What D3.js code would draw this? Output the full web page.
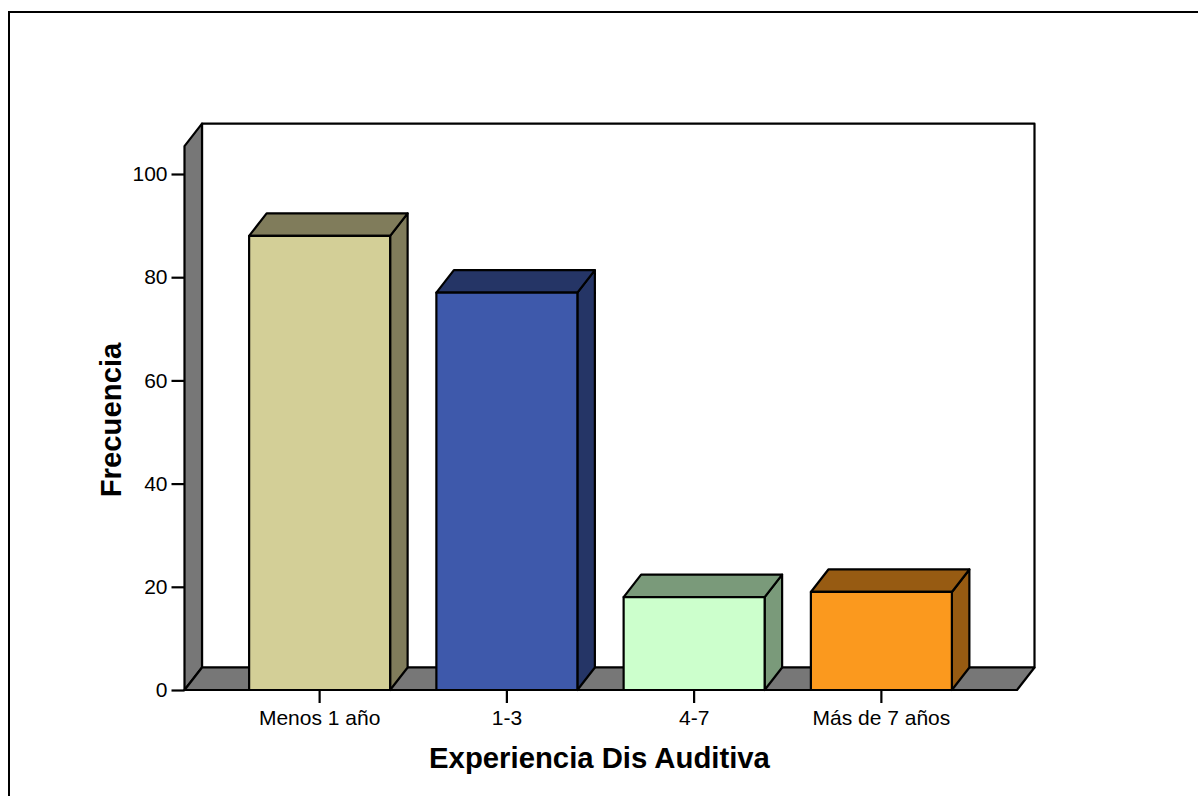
<!DOCTYPE html>
<html>
<head>
<meta charset="utf-8">
<script src="https://cdn.jsdelivr.net/npm/d3@7"></script>
<style>
  html, body { margin: 0; padding: 0; background: #fff; overflow: hidden; }
  text { font-family: "Liberation Sans", Arial, sans-serif; fill: #000; }
</style>
</head>
<body>
<div class="canvas"></div>
<script>
// data
const categories = ['Menos 1 año', '1-3', '4-7', 'Más de 7 años'];
const frecuencia = [88, 77, 18, 19];
const yTicks = [0, 20, 40, 60, 80, 100];
const frontColors = ['#d3cf97', '#3e59ab', '#ccffcc', '#fb991e'];
const sideColors = ['#807c5b', '#253566', '#7a9a7a', '#975b12'];

const width = 1198;
const height = 796;
const depth = { x: 17.5, y: -22.5 };

const svg = d3.select('.canvas')
    .append('svg')
    .attr('width', width)
    .attr('height', height)
    .style('display', 'block');

// outer frame, only top and left are visible
svg.append('path')
    .attr('d', d3.line()([[9, 797], [9, 12], [1199, 12]]))
    .attr('fill', 'none')
    .attr('stroke', '#000')
    .attr('stroke-width', 2);

//scales
const x = d3.scaleBand().domain(categories).range([226, 975])
    .paddingInner(0.247)
    .paddingOuter(0.1235);
const y = d3.scaleLinear().domain([0, 100]).range([690, 174]);

const plotLeft = 184.5;
const plotRight = 1017;
const plotTop = y(105.4);
const base = y(0);

const chart = svg.append('g')
    .attr('stroke', '#000')
    .attr('stroke-width', 2.2)
    .attr('stroke-linejoin', 'round');

const poly = (g, pts, fill) => g.append('path')
    .attr('d', d3.line()(pts) + 'Z')
    .attr('fill', fill);

// back wall, left wall, floor
poly(chart, [
    [plotLeft + depth.x, plotTop + depth.y], [plotRight + depth.x, plotTop + depth.y],
    [plotRight + depth.x, base + depth.y], [plotLeft + depth.x, base + depth.y]
], '#fff');
poly(chart, [
    [plotLeft, plotTop], [plotLeft + depth.x, plotTop + depth.y],
    [plotLeft + depth.x, base + depth.y], [plotLeft, base]
], '#777777');
poly(chart, [
    [plotLeft, base], [plotLeft + depth.x, base + depth.y],
    [plotRight + depth.x, base + depth.y], [plotRight, base]
], '#777777');

// bars: side, top, front
categories.forEach((c, i) => {
    const x0 = x(c);
    const x1 = x0 + x.bandwidth();
    const top = y(frecuencia[i]);
    const bar = chart.append('g');
    poly(bar, [
        [x1, top], [x1 + depth.x, top + depth.y],
        [x1 + depth.x, base + depth.y], [x1, base]
    ], sideColors[i]);
    poly(bar, [
        [x0, top], [x0 + depth.x, top + depth.y],
        [x1 + depth.x, top + depth.y], [x1, top]
    ], sideColors[i]);
    poly(bar, [[x0, top], [x1, top], [x1, base], [x0, base]], frontColors[i]);
});

// axis
const yAxisGroup = svg.append('g')
    .attr('transform', `translate(${plotLeft},0)`)
    .call(d3.axisLeft(y).tickValues(yTicks).tickSize(13).tickPadding(4).tickSizeOuter(0));

const xAxisGroup = svg.append('g')
    .attr('transform', `translate(0,${base})`)
    .call(d3.axisBottom(x).tickSize(13).tickPadding(7).tickSizeOuter(0));

svg.selectAll('.domain').remove();
svg.selectAll('.tick line').attr('stroke', '#000').attr('stroke-width', 2.2);
svg.selectAll('.tick text')
    .attr('font-family', '"Liberation Sans", Arial, sans-serif')
    .attr('font-size', 21);

// axis titles
svg.append('text')
    .attr('x', 599.5)
    .attr('y', 768)
    .attr('text-anchor', 'middle')
    .attr('font-size', 29.3)
    .attr('font-weight', 'bold')
    .text('Experiencia Dis Auditiva');

svg.append('text')
    .attr('transform', 'translate(121,420) rotate(-90)')
    .attr('text-anchor', 'middle')
    .attr('font-size', 29.3)
    .attr('font-weight', 'bold')
    .text('Frecuencia');
</script>
</body>
</html>
